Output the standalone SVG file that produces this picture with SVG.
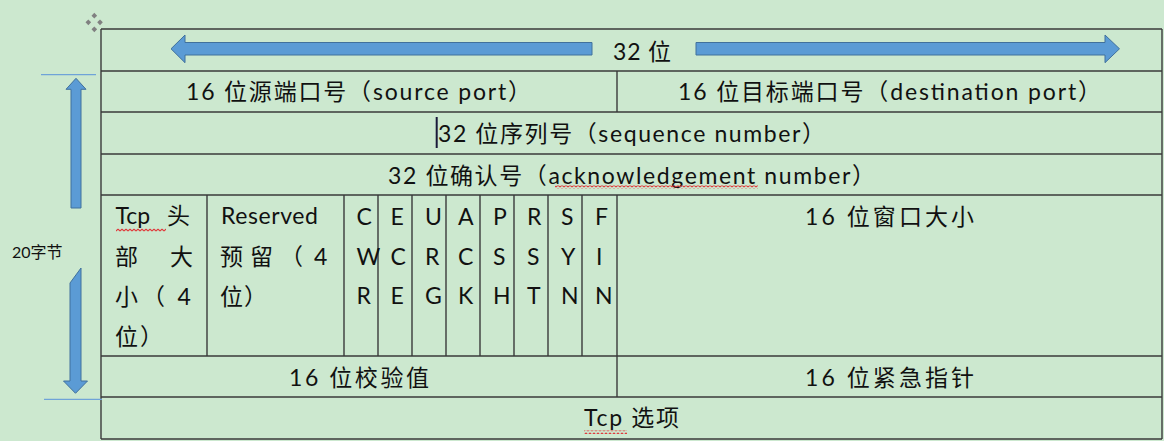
<svg xmlns="http://www.w3.org/2000/svg" width="1164" height="441" viewBox="0 0 1164 441">
<style>
  .grid line { stroke:#3a3a3a; stroke-width:1.4; }
  .t { font-family: Lato, "Noto Sans CJK SC", sans-serif; font-size:23px; fill:#111; }
  .c { text-anchor:middle; }
  .arrow { fill:#5B9BD5; stroke:#41719C; stroke-width:1; }
  .guide { stroke:#6FA3D8; stroke-width:1.2; }
  .lbl { font-family: Lato, "Noto Sans CJK SC", sans-serif; font-size:16px; fill:#111; }
</style>
<defs>
  <pattern id="wave" width="4" height="4" patternUnits="userSpaceOnUse">
    <path d="M0,3 L2,1 L4,3" fill="none" stroke="#E0383A" stroke-width="1.1"/>
  </pattern>
</defs>
<rect width="1164" height="441" fill="#CCE8CF"/>

<!-- table move handle -->
<g id="handle" fill="#808080">
  <rect x="92.3" y="13.7" width="4" height="4" transform="rotate(45 94.3 15.7)"/>
  <rect x="86.3" y="20.3" width="4" height="4" transform="rotate(45 88.3 22.3)"/>
  <rect x="98" y="20.3" width="4" height="4" transform="rotate(45 100 22.3)"/>
  <rect x="92.3" y="27.3" width="4" height="4" transform="rotate(45 94.3 29.3)"/>
</g>

<!-- table grid -->
<g id="table" class="grid">
  <line x1="101" y1="29" x2="1162" y2="29"/>
  <line x1="101" y1="71" x2="1162" y2="71"/>
  <line x1="101" y1="112" x2="1162" y2="112"/>
  <line x1="101" y1="154" x2="1162" y2="154"/>
  <line x1="101" y1="195" x2="1162" y2="195"/>
  <line x1="101" y1="356" x2="1162" y2="356"/>
  <line x1="101" y1="397" x2="1162" y2="397"/>
  <line x1="101" y1="439" x2="1162" y2="439"/>
  <line x1="101" y1="29" x2="101" y2="439"/>
  <line x1="1162" y1="29" x2="1162" y2="439"/>
  <line x1="617" y1="71" x2="617" y2="112"/>
  <line x1="207" y1="195" x2="207" y2="356"/>
  <line x1="344" y1="195" x2="344" y2="356"/>
  <line x1="378" y1="195" x2="378" y2="356"/>
  <line x1="412" y1="195" x2="412" y2="356"/>
  <line x1="446" y1="195" x2="446" y2="356"/>
  <line x1="480" y1="195" x2="480" y2="356"/>
  <line x1="514" y1="195" x2="514" y2="356"/>
  <line x1="548" y1="195" x2="548" y2="356"/>
  <line x1="582" y1="195" x2="582" y2="356"/>
  <line x1="617" y1="195" x2="617" y2="397"/>
</g>

<g id="row-32bit"><text class="t" x="613" y="60" textLength="58">32 位</text></g>
<g id="src-port"><text class="t c" x="358.5" y="100" textLength="345">16 位源端口号（source port）</text></g>
<g id="dst-port"><text class="t c" x="889.5" y="100" textLength="423">16 位目标端口号（destination port）</text></g>
<g id="seq"><text class="t c" x="631.5" y="142" textLength="387">32 位序列号（sequence number）</text>
  <line x1="436.7" y1="117" x2="436.7" y2="148" stroke="#1a1a3a" stroke-width="2"/></g>
<g id="ack"><text class="t c" x="631.5" y="184" textLength="487">32 位确认号（acknowledgement number）</text>
  <rect x="555" y="185.5" width="203" height="3.5" fill="url(#wave)"/></g>

<g id="hdr-len" class="t">
  <text x="115.5" y="224">Tcp</text><text x="167" y="224">头</text>
  <text x="115" y="265">部</text><text x="170" y="265">大</text>
  <text x="115" y="305">小</text><text x="142" y="305">（</text><text x="177.5" y="305">4</text>
  <text x="115" y="345">位</text><text x="140" y="345">）</text>
  <rect x="116" y="228.5" width="50" height="3.5" fill="url(#wave)"/>
</g>
<g id="reserved" class="t">
  <text x="221" y="224" textLength="97">Reserved</text>
  <text x="220" y="265">预</text><text x="250" y="265">留</text><text x="280" y="265">（</text><text x="314" y="265">4</text>
  <text x="220" y="305">位</text><text x="244" y="305">）</text>
</g>
<g id="flags" class="t">
  <text x="356.5" y="225">C</text><text x="356.5" y="264.5">W</text><text x="356.5" y="304">R</text>
  <text x="390.5" y="225">E</text><text x="390.5" y="264.5">C</text><text x="390.5" y="304">E</text>
  <text x="425" y="225">U</text><text x="425" y="264.5">R</text><text x="425" y="304">G</text>
  <text x="458" y="225">A</text><text x="458" y="264.5">C</text><text x="458" y="304">K</text>
  <text x="493" y="225">P</text><text x="493" y="264.5">S</text><text x="493" y="304">H</text>
  <text x="527" y="225">R</text><text x="527" y="264.5">S</text><text x="527" y="304">T</text>
  <text x="561" y="225">S</text><text x="561" y="264.5">Y</text><text x="561" y="304">N</text>
  <text x="595" y="225">F</text><text x="596" y="264.5">I</text><text x="595" y="304">N</text>
</g>
<g id="window"><text class="t c" x="889.5" y="225" textLength="169">16 位窗口大小</text></g>
<g id="checksum"><text class="t c" x="359" y="386" textLength="140">16 位校验值</text></g>
<g id="urgent"><text class="t c" x="889.5" y="386" textLength="169">16 位紧急指针</text></g>
<g id="options"><text class="t c" x="631.5" y="426" textLength="95">Tcp 选项</text>
  <rect x="584" y="430.5" width="43" height="3.5" fill="url(#wave)"/></g>

<g id="size-label"><text class="lbl" x="12" y="258">20字节</text></g>

<g id="connectors">
  <polygon class="arrow" points="171,48.8 185,35 185,42.5 592,42.5 592,55 185,55 185,62.7"/>
  <polygon class="arrow" points="1119.5,48.8 1105,35 1105,42.5 696,42.5 696,55 1105,55 1105,62.7"/>
  <polygon class="arrow" points="76,78.3 86,89.3 81,89.3 81,208 71,208 71,89.3 66,89.3"/>
  <polygon class="arrow" points="70,283 81,268 81,381 87.5,381 75.5,393.3 63.5,381 70,381"/>
  <line class="guide" x1="41" y1="74.7" x2="96" y2="74.7"/>
  <line class="guide" x1="44" y1="399.3" x2="102" y2="399.3"/>
</g>
</svg>
